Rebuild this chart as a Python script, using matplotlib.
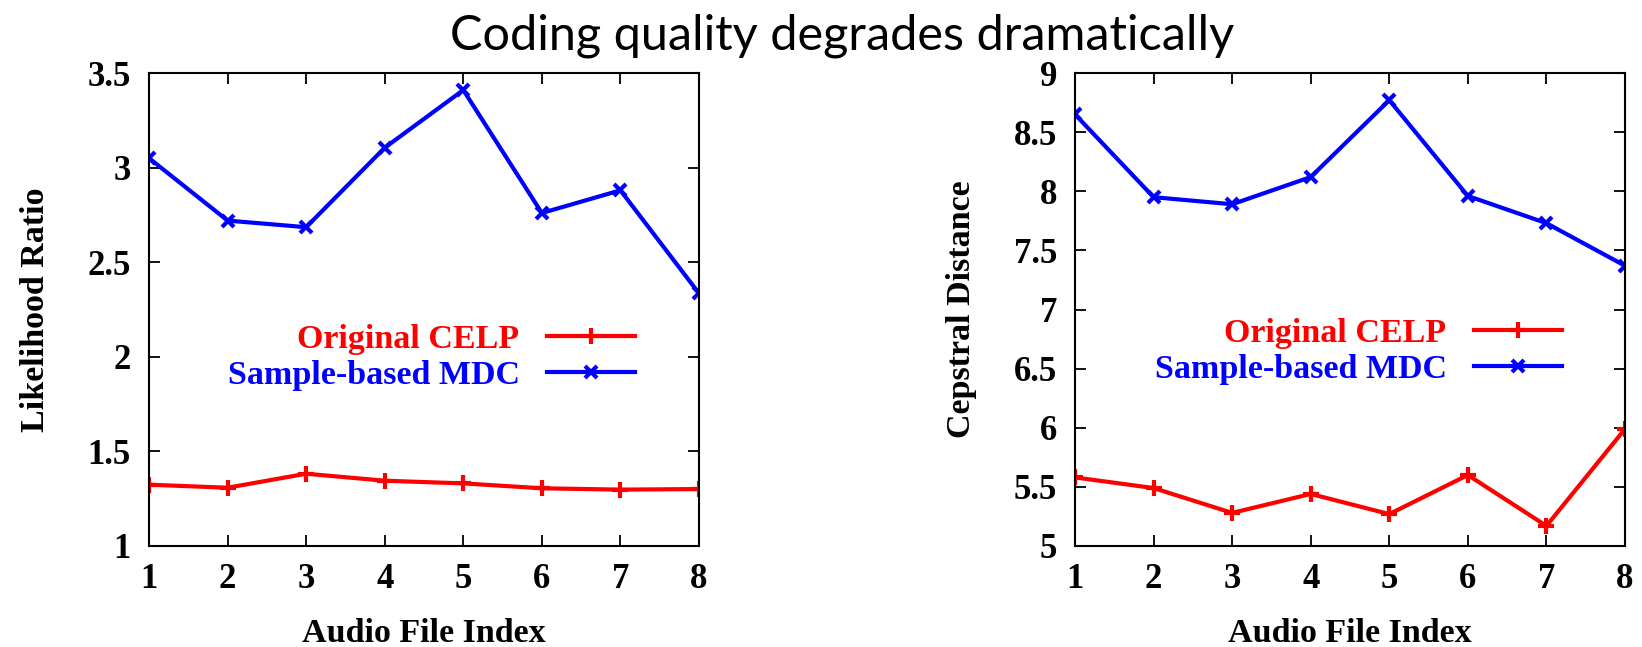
import matplotlib
matplotlib.use('Agg')
import matplotlib.pyplot as plt

# data
files = [1, 2, 3, 4, 5, 6, 7, 8]
lr_celp = [1.324, 1.308, 1.382, 1.345, 1.331, 1.305, 1.298, 1.301]
lr_mdc = [3.05, 2.72, 2.685, 3.105, 3.41, 2.76, 2.88, 2.335]
cd_celp = [5.58, 5.49, 5.28, 5.44, 5.27, 5.60, 5.17, 5.99]
cd_mdc = [8.65, 7.95, 7.89, 8.12, 8.77, 7.96, 7.73, 7.37]

lr_ticks = [1, 1.5, 2, 2.5, 3, 3.5]
lr_ticklabels = ['1', '1.5', '2', '2.5', '3', '3.5']
cd_ticks = [5, 5.5, 6, 6.5, 7, 7.5, 8, 8.5, 9]
cd_ticklabels = ['5', '5.5', '6', '6.5', '7', '7.5', '8', '8.5', '9']

SERIF = ['Liberation Serif', 'DejaVu Serif']
W, H = 1642, 647


def panel(ax, celp, mdc, ticks, ticklabels, ylabel, leg_anchor):
    ax.plot(files, celp, color='#ff0000', lw=3, marker='+', ms=11, mew=3,
            label='Original CELP')
    ax.plot(files, mdc, color='#0000ff', lw=3, marker='x', ms=9, mew=3,
            label='Sample-based MDC')
    ax.set_xlim(1, 8)
    ax.set_ylim(ticks[0], ticks[-1])
    ax.set_xticks(files)
    ax.set_xticklabels([str(f) for f in files])
    ax.set_yticks(ticks)
    ax.set_yticklabels(ticklabels)
    ax.tick_params(direction='in', length=8, width=1.3, top=True, right=True,
                   labelsize=25)
    ax.tick_params(axis='x', pad=12)
    ax.tick_params(axis='y', pad=13)
    for lab in ax.get_xticklabels() + ax.get_yticklabels():
        lab.set_family(SERIF)
        lab.set_fontweight('bold')
    for sp in ax.spines.values():
        sp.set_linewidth(1.5)
    ax.set_xlabel('Audio File Index', family=SERIF, fontweight='bold',
                  fontsize=24.5, labelpad=16)
    ax.set_ylabel(ylabel, family=SERIF, fontweight='bold', fontsize=24.5,
                  labelpad=26)
    leg = ax.legend(loc='center right', bbox_to_anchor=leg_anchor,
                    markerfirst=False, frameon=False, handlelength=2.6,
                    borderpad=0, borderaxespad=0, labelspacing=0.15,
                    handletextpad=0.8,
                    prop={'family': SERIF, 'weight': 'bold', 'size': 24.5})
    for txt, col in zip(leg.get_texts(), ['#ff0000', '#0000ff']):
        txt.set_color(col)


fig = plt.figure(figsize=(W / 100, H / 100), dpi=100)
ax1 = fig.add_axes([149 / W, 1 - 546 / H, 550 / W, 473 / H])
ax2 = fig.add_axes([1075 / W, 1 - 546 / H, 550 / W, 473 / H])

panel(ax1, lr_celp, lr_mdc, lr_ticks, lr_ticklabels, 'Likelihood Ratio',
      (0.884, 0.398))
panel(ax2, cd_celp, cd_mdc, cd_ticks, cd_ticklabels, 'Cepstral Distance',
      (0.886, 0.412))

fig.text(842 / W, 1 - 36 / H, 'Coding quality degrades dramatically',
         ha='center', va='center', fontsize=35, family=['Lato', 'DejaVu Sans'])

plt.savefig('out.png', dpi=100, facecolor='white')
plt.close()
